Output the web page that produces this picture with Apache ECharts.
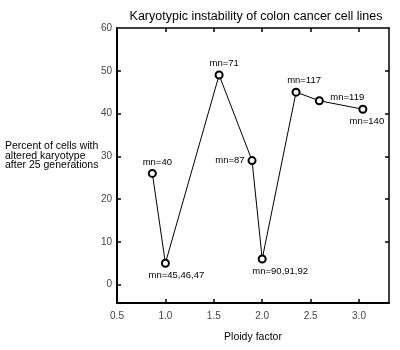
<!DOCTYPE html>
<html><head><meta charset="utf-8">
<script src="https://cdn.jsdelivr.net/npm/echarts@6/dist/echarts.min.js"></script>
<style>html,body{margin:0;padding:0;background:#fff}#c{width:400px;height:350px}</style>
</head><body><div id="c"></div>
<script>
const ploidy = [0.865, 1.0, 1.555, 1.895, 2.0, 2.35, 2.59, 3.04];
const percent = [26, 5, 49, 29, 6, 45, 43, 41];
const pointLabels = ['mn=40', 'mn=45,46,47', 'mn=71', 'mn=87', 'mn=90,91,92', 'mn=117', 'mn=119', 'mn=140'];
const xTicks = [0.5, 1.0, 1.5, 2.0, 2.5, 3.0];
const yTicks = [0, 10, 20, 30, 40, 50, 60];
const titleText = 'Karyotypic instability of colon cancer cell lines';
const xName = 'Ploidy factor';
const yName = 'Percent of cells with\naltered karyotype\nafter 25 generations';

const FONT = 'Liberation Sans';
const placement = [
  {position: 'top', offset: [5, 1]},
  {position: 'bottom', offset: [11, 0]},
  {position: 'top', offset: [5, 1]},
  {position: 'left', offset: [0, 0]},
  {position: 'bottom', offset: [18, 0]},
  {position: 'top', offset: [8, 1]},
  {position: 'top', offset: [28, 9]},
  {position: 'bottom', offset: [4, 0]}
];

const data = ploidy.map((x, i) => ({
  value: [x, percent[i]],
  label: Object.assign({show: true, formatter: pointLabels[i]}, placement[i])
}));

const xMin = 0.5, xMax = 3.31, yMin = -4.3, yMax = 60;
const tickStyle = {show: true, inside: true, length: 4, lineStyle: {color: '#000', width: 1.5}};

const chart = echarts.init(document.getElementById('c'), null, {renderer: 'canvas'});
chart.setOption({
  animation: false,
  backgroundColor: '#fff',
  title: {text: titleText, left: 251, top: 5, textAlign: 'center',
    textStyle: {fontFamily: FONT, fontSize: 12.5, fontWeight: 'normal', color: '#000'}},
  grid: {left: 117, top: 28, right: 11, bottom: 47, show: false},
  graphic: [{
    type: 'text', left: 5, top: 141,
    style: {text: yName, font: '10.5px "Liberation Sans"', fill: '#000', lineHeight: 9.5}
  }],
  xAxis: [{
    type: 'value', min: xMin, max: xMax, position: 'bottom',
    name: xName, nameLocation: 'middle', nameGap: 29,
    nameTextStyle: {fontFamily: FONT, fontSize: 10.5, color: '#000'},
    axisLine: {show: true, onZero: false, lineStyle: {color: '#000', width: 2}},
    axisTick: Object.assign({customValues: xTicks.slice(1)}, tickStyle),
    axisLabel: {customValues: xTicks, formatter: v => v.toFixed(1), margin: 8,
      fontFamily: FONT, fontSize: 10, color: '#444'},
    splitLine: {show: false}
  }, {
    type: 'value', min: xMin, max: xMax, position: 'top',
    axisLine: {show: true, onZero: false, lineStyle: {color: '#000', width: 1.5}},
    axisTick: Object.assign({customValues: xTicks.slice(1)}, tickStyle),
    axisLabel: {show: false}, splitLine: {show: false}
  }],
  yAxis: [{
    type: 'value', min: yMin, max: yMax, position: 'left',
    axisLine: {show: true, onZero: false, lineStyle: {color: '#000', width: 2}},
    axisTick: Object.assign({customValues: yTicks.slice(0, -1)}, tickStyle),
    axisLabel: {customValues: yTicks, margin: 5, fontFamily: FONT, fontSize: 10, color: '#444'},
    splitLine: {show: false}
  }, {
    type: 'value', min: yMin, max: yMax, position: 'right',
    axisLine: {show: true, onZero: false, lineStyle: {color: '#000', width: 1.5}},
    axisTick: Object.assign({customValues: yTicks.slice(1, -1)}, tickStyle),
    axisLabel: {show: false}, splitLine: {show: false}
  }],
  series: [{
    type: 'line', data: data, xAxisIndex: 0, yAxisIndex: 0,
    symbol: 'circle', symbolSize: 7,
    itemStyle: {color: '#fff', borderColor: '#000', borderWidth: 2},
    lineStyle: {color: '#000', width: 1},
    label: {fontFamily: FONT, fontSize: 9.5, color: '#000', distance: 3}
  }]
});
</script></body></html>
